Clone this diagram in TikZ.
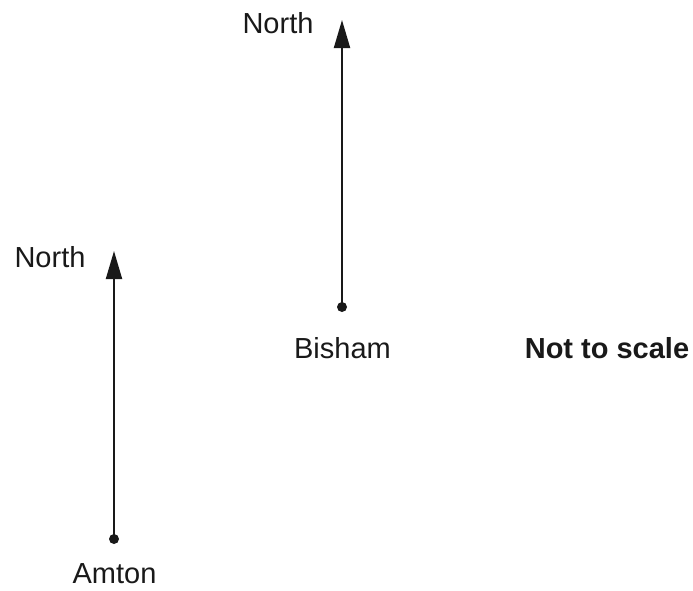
\documentclass[tikz,border=0pt]{standalone}
\usepackage{fontspec}
\setmainfont{Liberation Sans}
\usetikzlibrary{arrows.meta}
\begin{document}
\begin{tikzpicture}[x=1pt,y=-1pt,
  lbl/.style={anchor=base,inner sep=0pt,font=\fontsize{29}{34}\selectfont,text=black!90},
  northarrow/.style={line width=2pt,draw=black!90,-{Triangle[length=28pt,width=16pt]}},
  dotmark/.style={circle,fill=black!90,inner sep=0pt,minimum size=10pt}]
\useasboundingbox (0,0) rectangle (693,590);
% Bisham
\node[dotmark] (bdot) at (342,307) {};
\coordinate (btip) at (342,20);
\draw[northarrow] (bdot.center) -- (btip);
\node[lbl] (bnorth) at (278,33) {North};
\node[lbl] (bisham) at (342.5,358) {Bisham};
% Amton
\node[dotmark] (adot) at (114,539) {};
\coordinate (atip) at (114,251);
\draw[northarrow] (adot.center) -- (atip);
\node[lbl] (anorth) at (50,267) {North};
\node[lbl] (amton) at (114.5,583) {Amton};
% note
\node[lbl,font=\fontsize{29}{34}\selectfont\bfseries] (note) at (607,358) {Not to scale};
\end{tikzpicture}
\end{document}
